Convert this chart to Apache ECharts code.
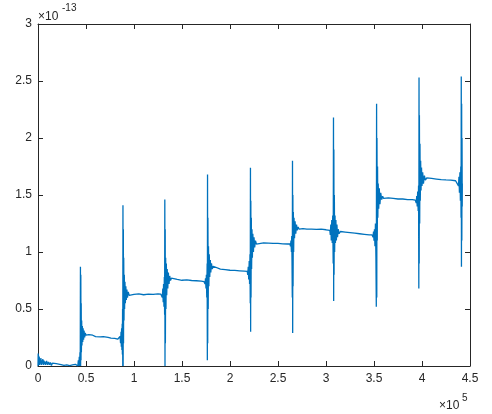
<!DOCTYPE html>
<html>
<head>
<meta charset="utf-8">
<script src="https://cdn.jsdelivr.net/npm/echarts@6/dist/echarts.min.js"></script>
<style>
html,body{margin:0;padding:0;background:#fff;}
#chart{width:492px;height:414px;}
</style>
</head>
<body>
<div id="chart"></div>
<script>
// x in units of 1e5, y in units of 1e-13
var xTicks = [0, 0.5, 1, 1.5, 2, 2.5, 3, 3.5, 4, 4.5];
var yTicks = [0, 0.5, 1, 1.5, 2, 2.5, 3];

var part0 = [[0,0.0],[0.002,0.11],[0.004,0.01],[0.007,0.09],[0.01,0.02],[0.013,0.08],[0.017,0.01],[0.02,0.06],[0.025,0.02],[0.03,0.07],[0.035,0.01],[0.04,0.05],[0.045,0.02],[0.05,0.06],[0.055,0.01],[0.06,0.05],[0.065,0.015],[0.07,0.04],[0.08,0.01],[0.09,0.045],[0.1,0.01],[0.11,0.035],[0.12,0.01],[0.13,0.03],[0.14,0.005],[0.15,0.025],[0.17,0.01],[0.19,0.02],[0.21,0.005],[0.24,0.012],[0.27,0.005],[0.3,0.01],[0.33,0.004],[0.36,0.01],[0.38,0.005],[0.39,0.015],[0.40,0.01],
  [0.41,0.03],[0.415,0.0],[0.42,0.05],[0.425,0.0],[0.43,0.08],[0.434,0.0],[0.437,0.12],[0.440,0.0],[0.442,0.87],[0.444,0.0],[0.446,0.80],[0.448,0.05],[0.450,0.55],[0.452,0.12],[0.455,0.40],[0.458,0.18],[0.462,0.35],[0.466,0.21],[0.470,0.33],[0.475,0.23],[0.480,0.31],[0.486,0.25],[0.492,0.29],[0.50,0.27]];
var part1 = [[0.51,0.28],[0.52,0.262],[0.53,0.275],[0.55,0.265],[0.57,0.27],[0.6,0.258],[0.62,0.262],[0.65,0.255],[0.68,0.258],[0.7,0.25],[0.73,0.252],[0.76,0.245],[0.8,0.242],[0.83,0.235],[0.845,0.24],
  [0.85,0.22],[0.855,0.26],[0.86,0.2],[0.865,0.3],[0.868,0.17],[0.871,0.33],[0.874,0.14],[0.877,0.37],[0.879,0.1],[0.881,0.5],[0.883,0.0],[0.885,1.41],[0.887,0.0],[0.889,1.2],[0.891,0.2],[0.893,0.95],[0.896,0.4],[0.899,0.8],[0.902,0.5],[0.906,0.74],[0.91,0.55],[0.915,0.7],[0.92,0.58],[0.926,0.67],[0.932,0.6],[0.94,0.65],[0.95,0.62],[0.96,0.635]];
var part2 = [[1.0,0.628],[1.05,0.632],[1.1,0.625],[1.15,0.63],[1.2,0.628],[1.25,0.632],[1.28,0.63],
  [1.29,0.63],[1.295,0.6],[1.3,0.68],[1.304,0.56],[1.308,0.72],[1.312,0.52],[1.316,0.78],[1.319,0.45],[1.321,1.46],[1.323,0.0],[1.325,1.2],[1.327,0.2],[1.33,0.95],[1.333,0.5],[1.337,0.9],[1.341,0.62],[1.346,0.85],[1.352,0.68],[1.358,0.82],[1.365,0.72],[1.372,0.79],[1.38,0.75],[1.39,0.77],[1.40,0.755]];
var part3 = [[1.45,0.76],[1.5,0.752],[1.55,0.755],[1.6,0.75],[1.65,0.748],[1.7,0.745],[1.73,0.74],
  [1.74,0.72],[1.745,0.77],[1.75,0.68],[1.754,0.8],[1.758,0.6],[1.762,0.9],[1.764,0.05],[1.766,1.68],[1.768,0.2],[1.77,1.3],[1.773,0.5],[1.776,1.05],[1.78,0.7],[1.784,0.98],[1.789,0.78],[1.795,0.93],[1.8,0.82],[1.807,0.9],[1.815,0.85],[1.825,0.875],[1.84,0.86]];
var part4 = [[1.9,0.85],[1.95,0.845],[2.0,0.84],[2.05,0.838],[2.1,0.835],[2.15,0.832],[2.18,0.83],
  [2.185,0.8],[2.19,0.87],[2.195,0.76],[2.2,0.92],[2.204,0.72],[2.208,0.98],[2.211,0.55],[2.213,1.74],[2.215,0.3],[2.217,1.45],[2.219,0.6],[2.222,1.3],[2.225,0.85],[2.229,1.2],[2.233,0.95],[2.238,1.16],[2.244,1.0],[2.25,1.13],[2.257,1.04],[2.265,1.1],[2.275,1.07],[2.29,1.085]];
var part5 = [[2.35,1.08],[2.4,1.078],[2.45,1.075],[2.5,1.075],[2.55,1.072],[2.6,1.07],[2.625,1.07],
  [2.63,1.05],[2.635,1.1],[2.64,1.0],[2.643,1.14],[2.646,0.93],[2.649,0.6],[2.651,1.8],[2.653,0.29],[2.655,1.5],[2.657,0.7],[2.66,1.35],[2.663,1.0],[2.667,1.3],[2.672,1.12],[2.678,1.27],[2.685,1.16],[2.693,1.24],[2.7,1.19],[2.71,1.22],[2.72,1.2]];
var part6 = [[2.76,1.205],[2.8,1.2],[2.85,1.2],[2.9,1.198],[2.95,1.2],[3.0,1.195],[3.04,1.19],
  [3.045,1.15],[3.05,1.24],[3.055,1.1],[3.06,1.28],[3.065,1.08],[3.07,1.32],[3.075,0.9],[3.078,2.18],[3.08,0.57],[3.082,1.9],[3.084,0.8],[3.087,1.5],[3.09,1.0],[3.094,1.32],[3.098,1.08],[3.103,1.28],[3.108,1.1],[3.114,1.24],[3.12,1.13],[3.128,1.2],[3.136,1.16],[3.15,1.18]];
var part7 = [[3.2,1.175],[3.25,1.17],[3.3,1.165],[3.35,1.16],[3.4,1.155],[3.45,1.15],[3.48,1.15],
  [3.49,1.13],[3.495,1.18],[3.5,1.1],[3.505,1.2],[3.51,1.05],[3.515,1.25],[3.52,0.96],[3.524,0.52],[3.527,2.3],[3.529,0.6],[3.531,2.0],[3.534,1.1],[3.537,1.75],[3.54,1.3],[3.544,1.6],[3.549,1.38],[3.555,1.56],[3.562,1.42],[3.57,1.52],[3.58,1.46],[3.59,1.49],[3.6,1.47]];
var part8 = [[3.65,1.475],[3.7,1.47],[3.75,1.465],[3.8,1.465],[3.85,1.46],[3.9,1.46],[3.93,1.455],
  [3.94,1.43],[3.945,1.49],[3.95,1.4],[3.955,1.53],[3.96,1.36],[3.964,1.58],[3.967,0.68],[3.969,2.53],[3.971,0.9],[3.973,2.2],[3.976,1.25],[3.979,1.95],[3.982,1.45],[3.986,1.8],[3.99,1.54],[3.995,1.74],[4.0,1.58],[4.007,1.7],[4.015,1.6],[4.025,1.67],[4.035,1.63],[4.05,1.65]];
var part9 = [[4.1,1.645],[4.15,1.64],[4.2,1.635],[4.25,1.632],[4.3,1.63],[4.35,1.625],[4.37,1.62],
  [4.38,1.58],[4.385,1.66],[4.39,1.52],[4.395,1.7],[4.4,1.45],[4.404,1.75],[4.407,1.3],[4.409,2.54],[4.411,0.87],[4.413,2.3],[4.415,1.1],[4.417,2.0],[4.419,1.4],[4.42,1.6]];

var signal = part0.concat(part1, part2, part3, part4, part5, part6, part7, part8, part9);

var chart = echarts.init(document.getElementById('chart'));
var axisColor = '#262626';
var fontFamily = '"Liberation Sans", Arial, sans-serif';

function xAxisCfg(pos, showLabel){
    return {
        type: 'value', position: pos,
        min: xTicks[0], max: xTicks[xTicks.length-1], interval: xTicks[1]-xTicks[0],
        axisLine: {show: true, onZero: false, lineStyle: {color: axisColor, width: 1}},
        axisTick: {show: true, inside: true, length: 5, lineStyle: {color: axisColor}},
        axisLabel: {show: showLabel, color: axisColor, fontSize: 12, fontFamily: fontFamily, margin: 7},
        splitLine: {show: false}
    };
}
function yAxisCfg(pos, showLabel){
    return {
        type: 'value', position: pos,
        min: yTicks[0], max: yTicks[yTicks.length-1], interval: yTicks[1]-yTicks[0],
        axisLine: {show: true, onZero: false, lineStyle: {color: axisColor, width: 1}},
        axisTick: {show: true, inside: true, length: 5, lineStyle: {color: axisColor}},
        axisLabel: {show: showLabel, color: axisColor, fontSize: 12, fontFamily: fontFamily, margin: 6},
        splitLine: {show: false}
    };
}

var option = {
    animation: false,
    backgroundColor: '#fff',
    grid: {left: 38, top: 24, right: 22, bottom: 48, containLabel: false},
    xAxis: [xAxisCfg('bottom', true), xAxisCfg('top', false)],
    yAxis: [yAxisCfg('left', true), yAxisCfg('right', false)],
    series: [{
        type: 'line',
        xAxisIndex: 0, yAxisIndex: 0,
        data: signal,
        showSymbol: false,
        sampling: null,
        lineStyle: {color: '#0072BD', width: 1.3},
        itemStyle: {color: '#0072BD'}
    }],
    graphic: [
        {type: 'text', left: 38, top: 11, style: {text: '×10', fontSize: 12, fontFamily: fontFamily, fill: axisColor}},
        {type: 'text', left: 62, top: 3, style: {text: '-13', fontSize: 10, fontFamily: fontFamily, fill: axisColor}},
        {type: 'text', left: 439, top: 400, style: {text: '×10', fontSize: 12, fontFamily: fontFamily, fill: axisColor}},
        {type: 'text', left: 462, top: 393, style: {text: '5', fontSize: 10, fontFamily: fontFamily, fill: axisColor}}
    ]
};
chart.setOption(option);
</script>
</body>
</html>
